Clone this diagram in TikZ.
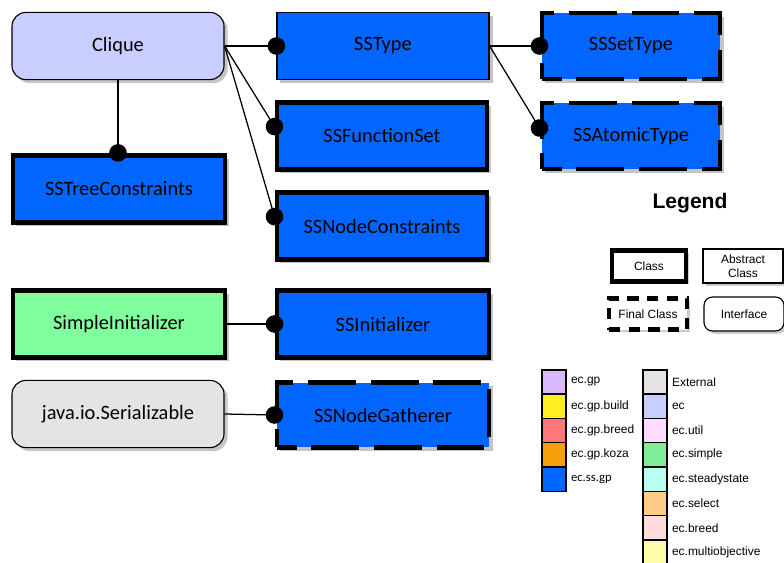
\documentclass[tikz,border=0pt]{standalone}
\usepackage{fontspec}
\setmainfont{Carlito}
\newfontfamily\legendfont{Liberation Sans}
\usetikzlibrary{arrows.meta,shadows}

\definecolor{ssblue}{HTML}{0066FF}
\definecolor{ecblue}{HTML}{C8CFFF}
\definecolor{simplegreen}{HTML}{80FF9C}
\definecolor{extgray}{HTML}{E4E4E4}
\definecolor{gpcol}{HTML}{D9B8FF}
\definecolor{buildcol}{HTML}{FFEE22}
\definecolor{gpbreedcol}{HTML}{FF7777}
\definecolor{kozacol}{HTML}{F5A00A}
\definecolor{utilcol}{HTML}{FFDDFF}
\definecolor{simplecol}{HTML}{80EE99}
\definecolor{steadycol}{HTML}{B8FFEE}
\definecolor{selectcol}{HTML}{FFCC88}
\definecolor{breedcol}{HTML}{FFDDDD}
\definecolor{multicol}{HTML}{FFFFAA}

\tikzset{
    base/.style={font=\fontsize{14.5}{17}\selectfont, inner sep=0pt,
        minimum width=5.3cm, minimum height=1.68cm,
        drop shadow={shadow xshift=2.5pt, shadow yshift=-2.5pt, fill=black!45, opacity=0.5}},
    classbox/.style={base, draw, line width=3.5pt, fill=ssblue},
    abstractbox/.style={base, draw, line width=0.8pt, fill=ssblue},
    finalbox/.style={base, draw, line width=3.5pt, dash pattern=on 34pt off 10.5pt, dash phase=20pt, fill=ssblue},
    ifacebox/.style={base, draw, line width=0.8pt, rounded corners=10pt},
    link/.style={line width=0.9pt, -{Circle[length=12.5pt]}, shorten >=-6.25pt},
    key/.style={font=\legendfont\fontsize{8.5}{10}\selectfont, inner sep=0pt},
    swatch/.style={draw, line width=0.8pt, minimum size=0.6cm, inner sep=0pt}
}

\begin{document}
\begin{tikzpicture}[x=0.025cm, y=-0.025cm]

        \useasboundingbox (0, 0) rectangle (784, 563);

        \node[ifacebox, fill=ecblue] (clique) at (118, 46) {Clique};

        \node[abstractbox] (sstype) at (383, 46) {SSType};

        \node[finalbox, minimum width=4.45cm, minimum height=1.65cm] (setType) at (631, 46) {SSSetType};

        \node[finalbox, minimum width=4.45cm, minimum height=1.65cm] (atomicType) at (631, 136) {SSAtomicType};

        \node[classbox, minimum width=5.25cm] (funcSet) at (382, 136) {SSFunctionSet};

        \node[classbox, minimum width=5.25cm] (nodeCons) at (382, 226) {SSNodeConstraints};

        \node[classbox] (treeCons) at (119, 189) {SSTreeConstraints};

        \node[classbox, fill=simplegreen] (simpleInit) at (119, 324) {SimpleInitializer};

        \node[classbox] (ssInit) at (383, 324) {SSInitializer};

        \node[ifacebox, fill=extgray] (serial) at (118, 414) {java.io.Serializable};

        \node[finalbox, minimum height=1.62cm] (gatherer) at (383, 415) {SSNodeGatherer};


        \draw[link] (clique.east) -- (sstype.west);

        \draw[link] (clique.east) -- (funcSet.175);

        \draw[link] (clique.east) -- (nodeCons.175);

        \draw[link] (clique.south) -- (clique.south |- treeCons.north);

        \draw[link] (sstype.east) -- (setType.west);

        \draw[link] (sstype.east) -- (atomicType.175);

        \draw[link] (simpleInit.east) -- (ssInit.west);

        \draw[link] (serial.east) -- (gatherer.west);


        \node[font=\legendfont\bfseries\fontsize{15}{18}\selectfont] (legend) at (690, 203) {Legend};

        \node[key, draw, line width=3pt, fill=white, minimum width=1.85cm, minimum height=0.78cm,
            drop shadow={shadow xshift=2pt, shadow yshift=-2pt, fill=black!40}] (kclass) at (649, 266) {Class};

        \node[key, draw, line width=0.8pt, fill=white, minimum width=2cm, minimum height=0.85cm, align=center,
            drop shadow={shadow xshift=2pt, shadow yshift=-2pt, fill=black!40}] (kabstract) at (743, 266) {Abstract\\Class};

        \node[key, draw, line width=3pt, dash pattern=on 8pt off 6pt, fill=white, minimum width=1.95cm, minimum height=0.78cm,
            drop shadow={shadow xshift=2pt, shadow yshift=-2pt, fill=black!40}] (kfinal) at (648, 314) {Final Class};

        \node[key, draw, line width=0.8pt, fill=white, rounded corners=6pt, minimum width=2cm, minimum height=0.85cm,
            drop shadow={shadow xshift=2pt, shadow yshift=-2pt, fill=black!40}] (kiface) at (744, 314) {Interface};

        \foreach \c/\t [count=\i] in {gpcol/ec.gp, buildcol/ec.gp.build, gpbreedcol/ec.gp.breed, kozacol/ec.gp.koza, ssblue/{\rmfamily\fontsize{9}{10}\selectfont ec.ss.gp}} {
            \node[swatch, fill=\c] (left\i) at (554, {357.7 + 24.3*\i}) {};
            \node[key, anchor=west] (leftlab\i) at ([xshift=3pt]left\i.east) {\t};
        }

        \foreach \c/\t [count=\i] in {extgray/External, ecblue/ec, utilcol/ec.util, simplecol/ec.simple, steadycol/ec.steadystate, selectcol/ec.select, breedcol/ec.breed, multicol/ec.multiobjective} {
            \node[swatch, fill=\c] (right\i) at (655, {357.7 + 24.3*\i}) {};
            \node[key, anchor=west] (rightlab\i) at ([xshift=3pt]right\i.east) {\t};
        }

\end{tikzpicture}
\end{document}
